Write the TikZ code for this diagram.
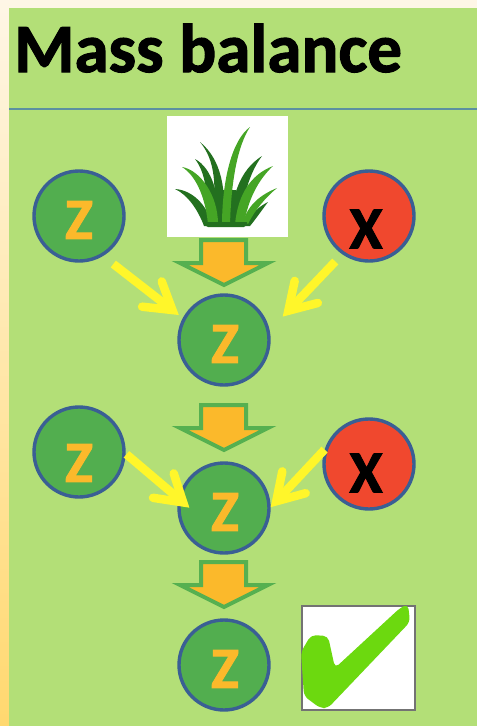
\documentclass[tikz,border=0pt]{standalone}
\usepackage{fontspec}
\setmainfont{Carlito}
\newfontface\heavyface{Carlito Bold}[FakeBold=1.6]
\usetikzlibrary{arrows.meta,calc}
\definecolor{bggreen}{HTML}{B3DF77}
\definecolor{cream}{HTML}{FEF6E6}
\definecolor{stripend}{HTML}{FFD86F}
\definecolor{rulecol}{HTML}{5C90A0}
\definecolor{ballgreen}{HTML}{52AE4F}
\definecolor{ballred}{HTML}{F0482E}
\definecolor{balledge}{HTML}{3A5F94}
\definecolor{letter}{HTML}{FBB92B}
\definecolor{arrowyellow}{HTML}{FFF62A}
\definecolor{blockedge}{HTML}{56B050}
\definecolor{grassdark}{HTML}{23701F}
\definecolor{grasslight}{HTML}{45A525}
\definecolor{tick}{HTML}{6CD90F}
\tikzset{
  x=1pt,y=-1pt,
  ball/.style={circle,draw=balledge,line width=3.4pt,minimum size=90pt,inner sep=0pt},
  zball/.style={ball,fill=ballgreen},
  xball/.style={ball,fill=ballred},
  zletter/.style={text=letter,font=\fontsize{58}{58}\heavyface,inner sep=0pt},
  xletter/.style={text=black,font=\fontsize{60}{60}\heavyface,inner sep=0pt},
  feed/.style={draw=arrowyellow,line width=8.5pt,-{Straight Barb[length=26pt,width=32pt,line cap=round,line join=miter]}},
  blockarrow/.style={draw=blockedge,fill=letter,line width=4pt,line join=miter},
  bladed/.style={fill=grassdark},
  bladel/.style={fill=grasslight}
}
\newcommand{\flowarrow}[1]{%
  \path[blockarrow,shift={(0,#1)}] (201,2) -- (246,2) -- (246,25) -- (268,25) -- (224,47) -- (180,25) -- (201,25) -- cycle;}
\begin{document}
\begin{tikzpicture}
\useasboundingbox (0,0) rectangle (477,726);
\fill[cream] (0,0) rectangle (477,726);
\shade[top color=cream,bottom color=stripend] (0,0) rectangle (9,726);
\fill[bggreen] (9,8) rectangle (477,726);
\node[anchor=base west,inner sep=0pt,font=\fontsize{69}{69}\heavyface] (title) at (14,72) {Mass balance};
\coordinate (rulestart) at (9,109);
\coordinate (ruleend) at (477,109);
\draw[rulecol,line width=1.3pt] (rulestart) -- (ruleend);
% grass
\node[fill=white,minimum size=121pt,inner sep=0pt] (grass) at (227.5,176.5) {};
\fill[bladed] (212,226) .. controls (217,185) and (215,160) .. (200,142) .. controls (222,160) and (226,190) .. (224,226) -- cycle;
\fill[bladed] (210,226) .. controls (207,190) and (205,172) .. (195,159) .. controls (212,168) and (220,195) .. (218,226) -- cycle;
\fill[bladed] (230,226) .. controls (232,195) and (240,170) .. (262,156) .. controls (250,172) and (243,195) .. (240,226) -- cycle;
\fill[bladed] (204,226) .. controls (198,210) and (188,195) .. (175,189) .. controls (192,190) and (208,205) .. (212,226) -- cycle;
\fill[bladed] (245,226) .. controls (250,215) and (258,207) .. (268,202) .. controls (262,210) and (255,220) .. (250,226) -- cycle;
\fill[bladed] (212,226) -- (216,190) -- (236,190) -- (240,226) -- cycle;
\fill[bladel] (208,224) .. controls (205,195) and (195,175) .. (182,167) .. controls (200,170) and (218,195) .. (218,224) -- cycle;
\fill[bladel] (235,224) .. controls (238,195) and (250,175) .. (273,166) .. controls (258,180) and (248,200) .. (244,224) -- cycle;
\fill[bladel] (243,222) .. controls (248,205) and (260,195) .. (277,188) .. controls (265,198) and (255,210) .. (248,224) -- cycle;
\fill[bladel] (222,226) .. controls (222,180) and (232,140) .. (250,127) .. controls (238,145) and (231,180) .. (230,226) -- cycle;
\fill[bladed,rounded corners=2pt] (203,222) -- (248,222) -- (246,227) -- (206,227) -- cycle;
% flow arrows
\flowarrow{238}
\flowarrow{403}
\flowarrow{560}
% balls
\node[zball] (z1) at (79,216) {};
\node[xball] (x1) at (369,216) {};
\node[zball] (z2) at (224,340) {};
\node[zball] (z3) at (79,452) {};
\node[xball] (x2) at (369,464) {};
\node[zball] (z4) at (224,508) {};
\node[zball] (z5) at (224,665) {};
\node[zletter] (lz1) at (79,220) {Z};
\node[xletter] (lx1) at (366,229) {X};
\node[zletter] (lz2) at (225,344) {Z};
\node[zletter] (lz3) at (79,463) {Z};
\node[xletter] (lx2) at (366,473) {X};
\node[zletter] (lz4) at (225,512) {Z};
\node[zletter] (lz5) at (225,669) {Z};
% feeds
\draw[feed,shorten <=13pt,shorten >=5pt] (z1.-59) -- (z2.152);
\draw[feed,shorten <=10pt,shorten >=18.9pt] (x1.235) -- (z2.12);
\draw[feed,shorten <=1pt,shorten >=-14.5pt] (z3.-2) -- (z4.168);
\draw[feed] (x2.162) -- (z4.1);
% tick box
\node[fill=white,draw=black!55,line width=1.3pt,minimum width=113pt,minimum height=104pt,inner sep=0pt] (tickbox) at (358.5,658) {};
\fill[tick,rounded corners=5pt] (400,608) -- (408,604) -- (410,622) -- (328,708) -- (320,708) -- (304,696) -- (301,652) -- (311,635) -- (328,636) -- (335,668) -- cycle;
\end{tikzpicture}
\end{document}
